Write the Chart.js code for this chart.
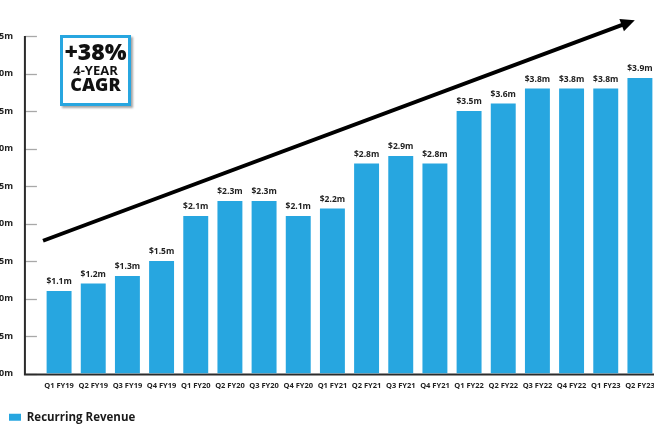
<!DOCTYPE html>
<html>
<head>
<meta charset="utf-8">
<script src="https://cdn.jsdelivr.net/npm/chart.js@4.4.1/dist/chart.umd.min.js"></script>
<style>
  html, body { margin: 0; padding: 0; background: #ffffff; overflow: hidden; }
  #wrap { position: absolute; left: -20px; top: 0; width: 700px; height: 433px; }
</style>
</head>
<body>
<div id="wrap"><canvas id="c" width="700" height="433"></canvas></div>
<script>
const categories = ["Q1 FY19","Q2 FY19","Q3 FY19","Q4 FY19","Q1 FY20","Q2 FY20","Q3 FY20","Q4 FY20","Q1 FY21","Q2 FY21","Q3 FY21","Q4 FY21","Q1 FY22","Q2 FY22","Q3 FY22","Q4 FY22","Q1 FY23","Q2 FY23"];
const recurringRevenue = [1.1,1.2,1.3,1.5,2.1,2.3,2.3,2.1,2.2,2.8,2.9,2.8,3.5,3.6,3.8,3.8,3.8,3.94];
const valueLabels = ["$1.1m","$1.2m","$1.3m","$1.5m","$2.1m","$2.3m","$2.3m","$2.1m","$2.2m","$2.8m","$2.9m","$2.8m","$3.5m","$3.6m","$3.8m","$3.8m","$3.8m","$3.9m"];
const yTicks = [0,0.5,1.0,1.5,2.0,2.5,3.0,3.5,4.0,4.5];
const seriesName = "Recurring Revenue";
const cagrLines = ["+38%","4-YEAR","CAGR"];

const BLUE = "#27a6e0";
Chart.defaults.font.family = "'Open Sans', sans-serif";
Chart.defaults.color = "#222";

const axisPlugin = {
  id: "axisPlugin",
  beforeDatasetsDraw(chart) {
    const ctx = chart.ctx, x = chart.scales.x, y = chart.scales.y;
    const ax = x.getPixelForValue(-1);
    const yb = y.getPixelForValue(0);
    ctx.save();
    ctx.strokeStyle = "#a8a8a8";
    ctx.lineWidth = 1.3;
    yTicks.forEach(v => {
      const py = Math.round(y.getPixelForValue(v)) + 0.5;
      ctx.beginPath(); ctx.moveTo(ax, py); ctx.lineTo(ax + 12, py); ctx.stroke();
    });
    ctx.strokeStyle = "#2b2b2b";
    ctx.lineWidth = 2;
    ctx.beginPath();
    ctx.moveTo(ax, y.getPixelForValue(4.5));
    ctx.lineTo(ax, yb + 1);
    ctx.moveTo(ax - 1, yb + 1);
    ctx.lineTo(chart.width, yb + 1);
    ctx.stroke();
    ctx.restore();
  },
  afterDatasetsDraw(chart) {
    const ctx = chart.ctx, x = chart.scales.x, y = chart.scales.y;
    const meta = chart.getDatasetMeta(0);
    ctx.save();
    ctx.fillStyle = "#222";
    ctx.font = "bold 8.5px 'Open Sans', sans-serif";
    ctx.textAlign = "center";
    ctx.textBaseline = "middle";
    meta.data.forEach((bar, i) => {
      ctx.fillText(valueLabels[i], bar.x, bar.y - 9);
    });
    // trend arrow
    const x0 = x.getPixelForValue(-0.47), y0 = y.getPixelForValue(1.77);
    const x1 = x.getPixelForValue(16.85), y1 = y.getPixelForValue(4.71);
    const ang = Math.atan2(y1 - y0, x1 - x0);
    const hl = 14, hw = 6.5;
    const bx = x1 - hl * Math.cos(ang), by = y1 - hl * Math.sin(ang);
    ctx.strokeStyle = "#000";
    ctx.lineWidth = 4;
    ctx.beginPath(); ctx.moveTo(x0, y0); ctx.lineTo(bx + 2*Math.cos(ang), by + 2*Math.sin(ang)); ctx.stroke();
    ctx.fillStyle = "#000";
    ctx.beginPath();
    ctx.moveTo(x1, y1);
    ctx.lineTo(bx + hw * Math.sin(ang), by - hw * Math.cos(ang));
    ctx.lineTo(bx - hw * Math.sin(ang), by + hw * Math.cos(ang));
    ctx.closePath(); ctx.fill();
    // CAGR box
    const left = chart.chartArea.left + 18, top = chart.chartArea.top - 1, w = 71, h = 71;
    ctx.save();
    ctx.shadowColor = "rgba(0,0,0,0.35)";
    ctx.shadowBlur = 2; ctx.shadowOffsetX = 1.5; ctx.shadowOffsetY = 1.5;
    ctx.fillStyle = "#fff";
    ctx.fillRect(left, top, w, h);
    ctx.restore();
    ctx.strokeStyle = BLUE; ctx.lineWidth = 3;
    ctx.strokeRect(left + 1.5, top + 1.5, w - 3, h - 3);
    ctx.fillStyle = "#111";
    ctx.textAlign = "center"; ctx.textBaseline = "middle";
    const cx = left + w / 2;
    ctx.font = "800 23px 'Open Sans', sans-serif";
    ctx.fillText(cagrLines[0], cx, top + 18);
    ctx.font = "bold 13px 'Open Sans', sans-serif";
    ctx.fillText(cagrLines[1], cx, top + 36);
    ctx.font = "800 18px 'Open Sans', sans-serif";
    ctx.fillText(cagrLines[2], cx, top + 51);
    ctx.restore();
  }
};

new Chart(document.getElementById("c"), {
  type: "bar",
  data: {
    labels: categories,
    datasets: [{
      label: seriesName,
      data: recurringRevenue,
      backgroundColor: BLUE,
      borderWidth: 0,
      barPercentage: 0.73,
      categoryPercentage: 1.0
    }]
  },
  options: {
    responsive: false,
    animation: false,
    layout: { padding: { left: 19, right: 23, top: 36, bottom: 0 } },
    plugins: {
      legend: {
        display: true,
        position: "bottom",
        align: "start",
        labels: {
          boxWidth: 12, boxHeight: 7, padding: 10,
          color: "#1a1a1a",
          font: { size: 11.5, weight: "bold" }
        }
      },
      tooltip: { enabled: false }
    },
    scales: {
      x: {
        grid: { display: false },
        border: { display: false },
        ticks: { font: { size: 7.5, weight: "bold" }, color: "#222", padding: 0, maxRotation: 0, autoSkip: false },
        afterFit(s) { s.height = 28; }
      },
      y: {
        min: 0, max: 4.5,
        grid: { display: false },
        border: { display: false },
        ticks: {
          stepSize: 0.5,
          padding: 21,
          font: { size: 9, weight: "bold" },
          color: "#222",
          callback: (v) => "$" + Number(v).toFixed(1) + "m"
        },
        afterFit(s) { s.width = 43; }
      }
    }
  },
  plugins: [axisPlugin]
});
</script>
</body>
</html>
